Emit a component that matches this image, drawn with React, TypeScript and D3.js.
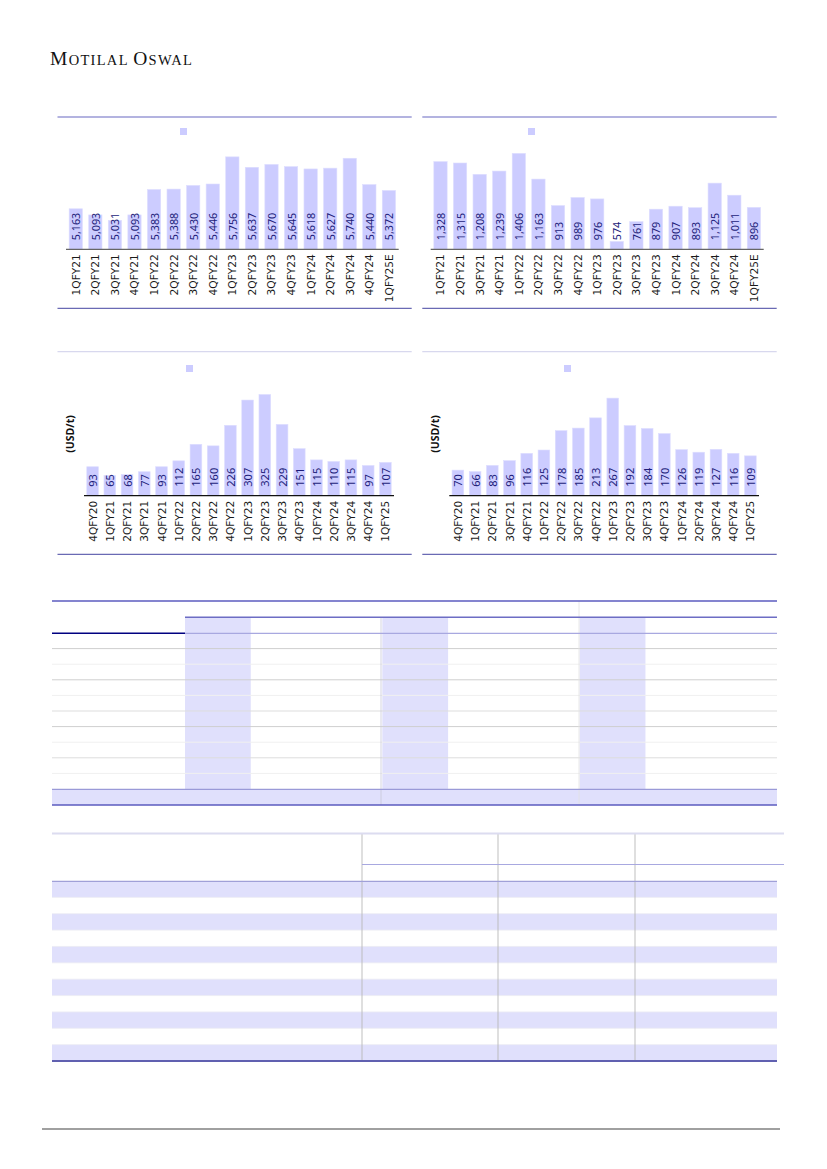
import React from "react";
import * as d3 from "d3";

// quarters and values
const quartersA = ["1QFY21", "2QFY21", "3QFY21", "4QFY21", "1QFY22", "2QFY22", "3QFY22", "4QFY22", "1QFY23", "2QFY23", "3QFY23", "4QFY23", "1QFY24", "2QFY24", "3QFY24", "4QFY24", "1QFY25E"];
const realizationA = [5163, 5093, 5031, 5093, 5383, 5388, 5430, 5446, 5756, 5637, 5670, 5645, 5618, 5627, 5740, 5440, 5372];
const ebitdaA = [1328, 1315, 1208, 1239, 1406, 1163, 913, 989, 976, 574, 761, 879, 907, 893, 1125, 1011, 896];

const quartersB = ["4QFY20", "1QFY21", "2QFY21", "3QFY21", "4QFY21", "1QFY22", "2QFY22", "3QFY22", "4QFY22", "1QFY23", "2QFY23", "3QFY23", "4QFY23", "1QFY24", "2QFY24", "3QFY24", "4QFY24", "1QFY25"];
const spreadB = [93, 65, 68, 77, 93, 112, 165, 160, 226, 307, 325, 229, 151, 115, 110, 115, 97, 107];
const spreadC = [70, 66, 83, 96, 116, 125, 178, 185, 213, 267, 192, 184, 170, 126, 119, 127, 116, 109];

const BAR = "#ccccff";
const LABEL = "#1c1c7a";

interface PanelProps {
  categories: string[];
  values: number[];
  xRange: [number, number];
  yDomain: [number, number];
  yRange: [number, number];
  frame: { x0: number; x1: number; top: number; bottom: number; topColor: string };
  legend: [number, number];
  unit?: [number, number];
  labelSize: number;
  axisColor: string;
  fmt: (v: number) => string;
}

const BarPanel: React.FC<PanelProps> = ({ categories, values, xRange, yDomain, yRange, frame, legend, unit, labelSize, axisColor, fmt }) => {
  const x = d3.scaleBand<string>().domain(categories).range(xRange).paddingInner(0.32).paddingOuter(0.16);
  const y = d3.scaleLinear().domain(yDomain).range(yRange);
  const base = y(yDomain[0]);
  return (
    <g>
      <line x1={frame.x0} x2={frame.x1} y1={frame.top} y2={frame.top} stroke={frame.topColor} strokeWidth={1.3} />
      <line x1={frame.x0} x2={frame.x1} y1={frame.bottom} y2={frame.bottom} stroke="#6a6ab4" strokeWidth={1.3} />
      <rect x={legend[0]} y={legend[1]} width={7} height={7} fill={BAR} />
      {unit && (
        <text transform={`translate(${unit[0]},${unit[1]}) rotate(-90)`} textAnchor="middle" dominantBaseline="central"
          fontFamily="Open Sans" fontWeight="bold" fontSize={10.5} fill="#111">(USD/t)</text>
      )}
      {values.map((v, i) => {
        const c = categories[i];
        return (
          <rect key={c} x={x(c)} y={y(v)} width={x.bandwidth()} height={base - y(v)} fill={BAR} stroke="#dedeff" strokeWidth={0.6} />
        );
      })}
      <line x1={xRange[0]} x2={xRange[1]} y1={base} y2={base} stroke={axisColor} strokeWidth={1.2} />
      {values.map((v, i) => {
        const cx = (x(categories[i]) as number) + x.bandwidth() / 2;
        return (
          <text key={"v" + i} transform={`translate(${cx},${base - 9}) rotate(-90)`} textAnchor="start" dominantBaseline="central"
            fontFamily="Noto Sans" fontSize={labelSize} fill={LABEL}>{fmt(v)}</text>
        );
      })}
      {categories.map((c) => {
        const cx = (x(c) as number) + x.bandwidth() / 2;
        return (
          <text key={"c" + c} transform={`translate(${cx},${base + 5}) rotate(-90)`} textAnchor="end" dominantBaseline="central"
            fontFamily="DejaVu Sans" fontSize={10.6} fill="#1a1a1a">{c}</text>
        );
      })}
    </g>
  );
};

const comma = d3.format(",");

const TableOne: React.FC = () => {
  const cols = d3.scaleBand<number>().domain(d3.range(9)).range([185, 777]);
  const rows = d3.scaleBand<number>().domain(d3.range(10)).range([633, 789]);
  const shades = ["#cfcfcf", "#f0f0f0", "#cfcfcf", "#f0f0f0", "#dddddd", "#cfcfcf", "#f0f0f0", "#dddddd", "#f0f0f0"];
  return (
    <g>
      {[0, 3, 6].map((c) => (
        <rect key={c} x={cols(c)} y={617} width={cols.bandwidth()} height={172} fill="#e0e0fc" />
      ))}
      {d3.range(1, 10).map((r, i) => (
        <line key={r} x1={52} x2={777} y1={rows(r)} y2={rows(r)} stroke={shades[i]} strokeWidth={1} />
      ))}
      <rect x={52} y={789} width={725} height={16} fill="#e0e0fc" />
      <line x1={381} x2={381} y1={617} y2={805} stroke="#c8c8d8" strokeWidth={0.8} />
      <line x1={579} x2={579} y1={601} y2={805} stroke="#e2e2e2" strokeWidth={0.8} />
      <line x1={52} x2={777} y1={601} y2={601} stroke="#5b5bbf" strokeWidth={1.4} />
      <line x1={185} x2={777} y1={617.3} y2={617.3} stroke="#6d6dc4" strokeWidth={1.4} />
      <line x1={52} x2={185} y1={633.3} y2={633.3} stroke="#000080" strokeWidth={1.4} />
      <line x1={185} x2={777} y1={633.3} y2={633.3} stroke="#a8a8e0" strokeWidth={1.2} />
      <line x1={52} x2={777} y1={789.3} y2={789.3} stroke="#9a9ad8" strokeWidth={1.2} />
      <line x1={52} x2={777} y1={805} y2={805} stroke="#5b5bbf" strokeWidth={1.4} />
    </g>
  );
};

const TableTwo: React.FC = () => {
  const rows = d3.scaleBand<number>().domain(d3.range(11)).range([881, 1061]);
  return (
    <g>
      {d3.range(11).map((r) =>
        r % 2 === 0 ? <rect key={r} x={52} y={rows(r)} width={725} height={rows.bandwidth()} fill="#e0e0fc" /> : null
      )}
      {d3.range(1, 11).map((r) => (
        <line key={"l" + r} x1={52} x2={777} y1={rows(r)} y2={rows(r)} stroke="#ececf4" strokeWidth={0.8} />
      ))}
      {[362, 498, 635].map((vx) => (
        <line key={vx} x1={vx} x2={vx} y1={834} y2={1061} stroke="#b8b8b8" strokeWidth={0.9} />
      ))}
      <line x1={52} x2={784} y1={833.5} y2={833.5} stroke="#dcdcf0" strokeWidth={2} />
      <line x1={362} x2={784} y1={864.5} y2={864.5} stroke="#a8a8e0" strokeWidth={1.2} />
      <line x1={52} x2={777} y1={881.3} y2={881.3} stroke="#a0a0d8" strokeWidth={1.2} />
      <line x1={52} x2={777} y1={1061} y2={1061} stroke="#6060b0" strokeWidth={1.8} />
    </g>
  );
};

export default function App() {
  const topFrameL = { x0: 57.5, x1: 411.7, top: 117, bottom: 308.3, topColor: "#9a9ad6" };
  const topFrameR = { x0: 422.3, x1: 776.7, top: 117, bottom: 308.3, topColor: "#9a9ad6" };
  const lowFrameL = { x0: 57.5, x1: 411.7, top: 351.7, bottom: 554.3, topColor: "#d8d8ee" };
  const lowFrameR = { x0: 422.3, x1: 776.7, top: 351.7, bottom: 554.3, topColor: "#d8d8ee" };
  return (
    <svg width={827} height={1169} style={{ position: "absolute", left: 0, top: 0, display: "block" }}>
      <rect width={827} height={1169} fill="#fff" />
      <text x={50} y={65.3} fontFamily="Liberation Serif" fill="#111" letterSpacing={1.3}>
        <tspan fontSize={19.5}>M</tspan>
        <tspan fontSize={14.5}>OTILAL </tspan>
        <tspan fontSize={19.5}>O</tspan>
        <tspan fontSize={14.5}>SWAL</tspan>
      </text>

      <BarPanel categories={quartersA} values={realizationA} xRange={[66, 398.7]} yDomain={[4700, 6200]} yRange={[249.3, 118]}
        frame={topFrameL} legend={[180, 128]} labelSize={10.8} axisColor="#666" fmt={comma} />
      <BarPanel categories={quartersA} values={ebitdaA} xRange={[430.7, 763.7]} yDomain={[500, 1740]} yRange={[249.3, 118]}
        frame={topFrameR} legend={[528, 128]} labelSize={10.8} axisColor="#666" fmt={comma} />
      <BarPanel categories={quartersB} values={spreadB} xRange={[84, 394]} yDomain={[0, 450]} yRange={[495.7, 355.5]}
        frame={lowFrameL} legend={[186, 365]} unit={[70, 434]} labelSize={11} axisColor="#111" fmt={comma} />
      <BarPanel categories={quartersB} values={spreadC} xRange={[449.3, 759]} yDomain={[0, 385]} yRange={[495.7, 355]}
        frame={lowFrameR} legend={[564, 365]} unit={[435, 434]} labelSize={11} axisColor="#111" fmt={comma} />

      <TableOne />
      <TableTwo />

      <line x1={42} x2={780} y1={1129} y2={1129} stroke="#a0a0a0" strokeWidth={2} />
    </svg>
  );
}
